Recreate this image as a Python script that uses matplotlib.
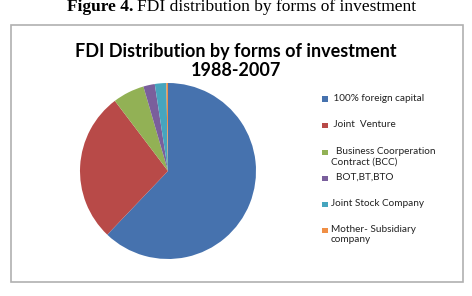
import matplotlib
matplotlib.use('Agg')
import matplotlib.pyplot as plt
from matplotlib.patches import Rectangle

# data (share of total, %)
categories = [' 100% foreign capital', ' Joint  Venture', '  Business Coorperation\nContract (BCC)',
              '  BOT,BT,BTO', 'Joint Stock Company', 'Mother- Subsidiary\ncompany']
shares = [62.0, 27.5, 5.8, 2.1, 2.1, 0.3]
colors = ['#4672AE', '#B84A48', '#92B155', '#7A5F9C', '#46A5BE', '#F08F45']

W, H = 472, 296
fig = plt.figure(figsize=(W / 100, H / 100), dpi=100)

def fx(px):
    return px / W

def fy(py):
    return 1 - py / H

# caption above the chart box
fig.text(fx(133), fy(11), 'Figure 4.', ha='right', va='baseline', fontsize=12.5,
         fontweight='bold', family='Liberation Serif')
fig.text(fx(137), fy(11), 'FDI distribution by forms of investment', ha='left', va='baseline',
         fontsize=12.5, family='Liberation Serif')

# chart border
fig.patches.append(Rectangle((fx(11), fy(282)), fx(452), 257 / H, transform=fig.transFigure,
                             fill=False, edgecolor='#b0b0b0', linewidth=1.2))

# title
fig.text(fx(236), fy(51), 'FDI Distribution by forms of investment', ha='center', va='center',
         fontsize=13, fontweight='bold', family='Lato')
fig.text(fx(236), fy(70), '1988-2007', ha='center', va='center',
         fontsize=13, fontweight='bold', family='Lato')

# pie
cx, cy, r = 168, 171, 88
ax = fig.add_axes([fx(cx - r), fy(cy + r), 2 * r / W, 2 * r / H])
ax.pie(shares, colors=colors, startangle=90, counterclock=False,
       wedgeprops=dict(linewidth=0))
ax.set_xlim(-1, 1)
ax.set_ylim(-1, 1)
ax.set_aspect('auto')
ax.axis('off')

# legend
legend_y = [99, 125, 152, 178, 204, 230]
for lab, col, y in zip(categories, colors, legend_y):
    fig.patches.append(Rectangle((fx(322), fy(y + 3)), fx(6), 5.5 / H, transform=fig.transFigure,
                                 facecolor=col, edgecolor='none'))
    fig.text(fx(331), fy(y - 5), lab, ha='left', va='top', fontsize=7.2, family='Lato',
             color='#222222', linespacing=1.2)

fig.savefig('out.png', dpi=100)
